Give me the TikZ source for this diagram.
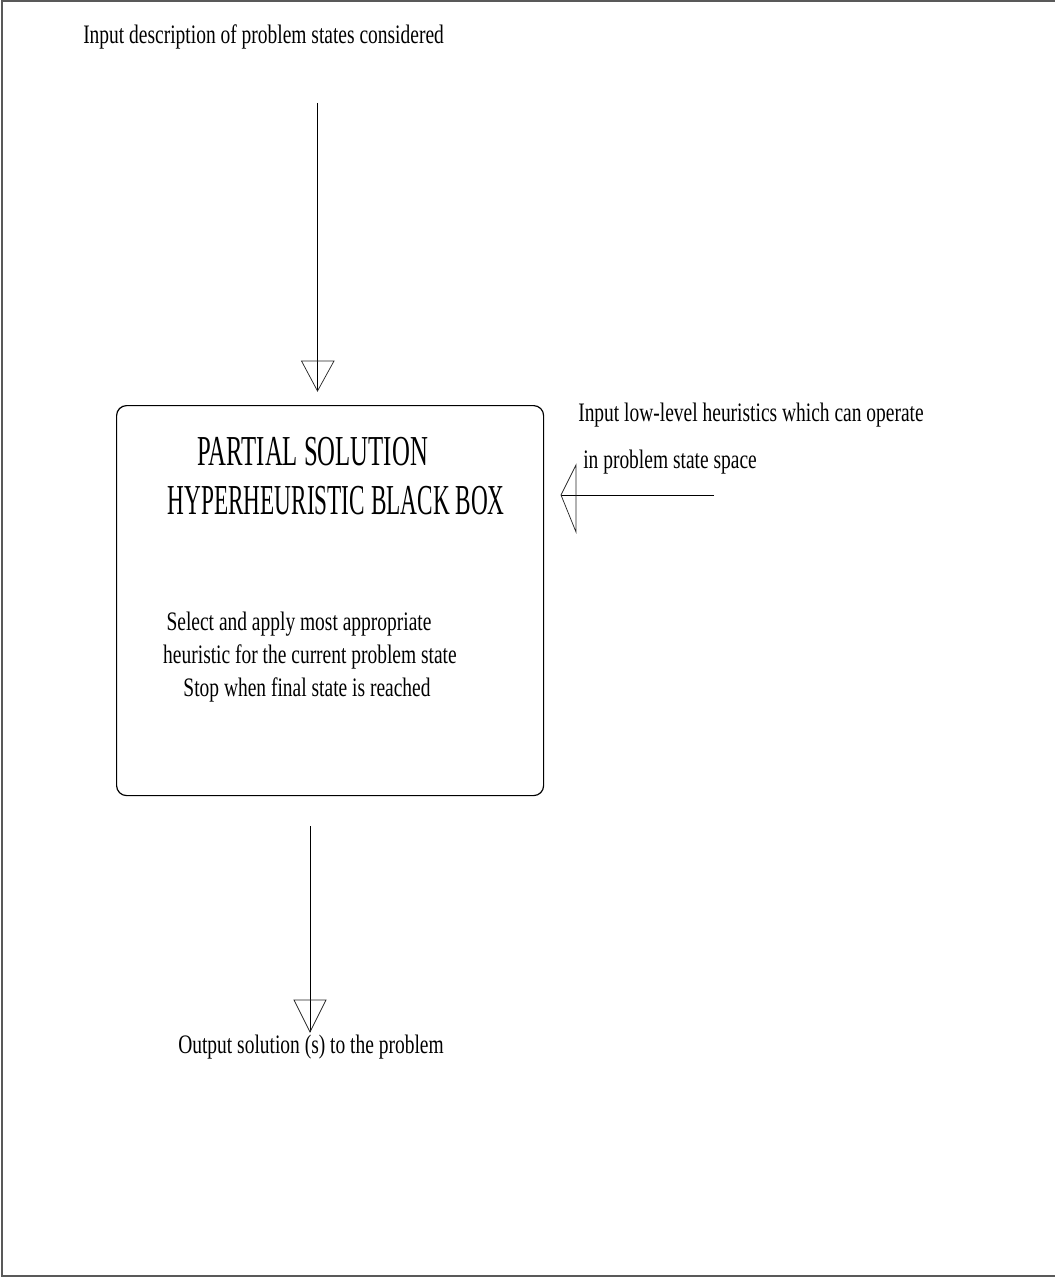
\documentclass[tikz,border=0pt]{standalone}
\usepackage{fontspec}
\setmainfont{Liberation Serif}
\newfontfamily\bodyfont[FakeStretch=0.73]{Liberation Serif}
\newfontfamily\titlefont[FakeStretch=0.58]{Liberation Serif}
\newfontfamily\titlefontnarrow[FakeStretch=0.545]{Liberation Serif}
\begin{document}
\begin{tikzpicture}[x=0.75pt,y=-0.75pt,
  txt/.style={inner sep=0pt,font=\bodyfont\fontsize{20}{24}\selectfont},
  ttl/.style={inner sep=0pt,font=\titlefont\fontsize{32}{38}\selectfont},
  ttlnarrow/.style={inner sep=0pt,font=\titlefontnarrow\fontsize{32}{38}\selectfont},
  wire/.style={line width=0.75pt,black},
  head/.style={line width=0.55pt,black!85},
  boxframe/.style={draw,line width=0.9pt,rounded corners=7.5pt}]
\useasboundingbox (0,0) rectangle (1054,1277);
% outer frame
\draw[line width=1.5pt,black!65] (1.7,0.6) rectangle (1060,1276);

% central box
\node[boxframe,minimum width=427*0.75pt,minimum height=390*0.75pt,anchor=north west] (box) at (116,405) {};

% labels
\node[txt,anchor=base west] (inDesc) at (83,44) {Input description of problem states considered};
\node[txt,anchor=base west] (inHeur1) at (578,421) {Input low-level heuristics which can operate};
\node[txt,anchor=base west] (inHeur2) at (583,468) {in problem state space};
\node[ttl,anchor=base west] (title1) at (197,465) {PARTIAL SOLUTION};
\node[ttlnarrow,anchor=base east] (title2) at (505,514) {HYPERHEURISTIC BLACK BOX};
\node[txt,anchor=base] (sel) at (299,630) {Select and apply most appropriate};
\node[txt,anchor=base] (heu) at (310,663) {heuristic for the current problem state};
\node[txt,anchor=base] (stop) at (307,696) {Stop when final state is reached};
\node[txt,anchor=base] (out) at (311,1053) {Output solution (s) to the problem};

% connector end points
\coordinate (topStart) at (317.5,103);
\coordinate (topTip) at (317.5,391);
\coordinate (sideStart) at (714,495);
\coordinate (sideTip) at (561,495);
\coordinate (botStart) at (310,826);
\coordinate (botTip) at (310,1032);

% input arrow from above
\draw[wire] (topStart) -- (topTip);
\draw[head] (topTip) -- ++(-16,-30) -- ++(32.5,0) -- cycle;
% input arrow from the right
\draw[wire] (sideStart) -- (sideTip);
\draw[head] (sideTip) -- ++(15,-30) -- ++(0,67) -- cycle;
% output arrow
\draw[wire] (botStart) -- (botTip);
\draw[head] (botTip) -- ++(-16,-32) -- ++(32,0) -- cycle;
\end{tikzpicture}
\end{document}
